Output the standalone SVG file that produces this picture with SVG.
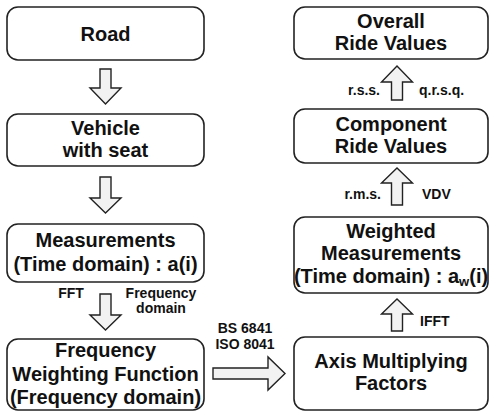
<svg xmlns="http://www.w3.org/2000/svg" width="490" height="411" viewBox="0 0 490 411">
<style>
.box{fill:#fff;stroke:#222;stroke-width:1.6}
.arr{fill:#f2f2f2;stroke:#222;stroke-width:1.4;stroke-linejoin:miter}
.t{font-family:"Liberation Sans",Arial,sans-serif;font-weight:bold;font-size:20px;fill:#111;text-anchor:middle}
.s{font-family:"Liberation Sans",Arial,sans-serif;font-weight:bold;font-size:14px;fill:#111}
</style>
<rect width="490" height="411" fill="#fff"/>
<g id="road"><rect class="box" x="7" y="7" width="197" height="53" rx="11"/><text class="t" x="105.5" y="40.5">Road</text></g>
<g id="vehicle"><rect class="box" x="7" y="114" width="197" height="52" rx="11"/><text class="t" x="105.5" y="135">Vehicle</text><text class="t" x="105.5" y="157">with seat</text></g>
<g id="measurements"><rect class="box" x="7" y="224" width="197" height="58" rx="11"/><text class="t" x="105.5" y="247">Measurements</text><text class="t" x="105.5" y="271">(Time domain) : a(i)</text></g>
<g id="fwf"><rect class="box" x="7" y="339" width="197" height="71" rx="11"/><text class="t" x="105.5" y="357">Frequency</text><text class="t" x="105.5" y="381">Weighting Function</text><text class="t" x="105.5" y="404">(Frequency domain)</text></g>
<g id="overall"><rect class="box" x="294" y="7" width="194" height="52" rx="11"/><text class="t" x="391" y="28">Overall</text><text class="t" x="391" y="50">Ride Values</text></g>
<g id="component"><rect class="box" x="294" y="109" width="194" height="54" rx="11"/><text class="t" x="391" y="131">Component</text><text class="t" x="391" y="153">Ride Values</text></g>
<g id="weighted"><rect class="box" x="294" y="217" width="194" height="76" rx="11"/><text class="t" x="391" y="238">Weighted</text><text class="t" x="391" y="260">Measurements</text><text class="t" x="391" y="283">(Time domain) : a<tspan font-size="13" dy="3">w</tspan><tspan dy="-3">(i)</tspan></text></g>
<g id="axis"><rect class="box" x="294" y="337" width="194" height="73" rx="11"/><text class="t" x="391" y="368">Axis Multiplying</text><text class="t" x="391" y="390">Factors</text></g>
<g id="connectors">
<path class="arr" d="M100,69 H111 V88 H121 L105.5,104 L90,88 H100 Z"/>
<path class="arr" d="M100,177 H111 V198 H121 L105.5,213 L90,198 H100 Z"/>
<path class="arr" d="M100,294 H111 V315 H121 L105.5,330 L90,315 H100 Z"/>
<path class="arr" d="M213,368 H268 V357 L285,373.5 L268,390 V379 H213 Z"/>
<path class="arr" d="M391.5,100 H402.5 V82 H412.5 L397,66 L381.5,82 H391.5 Z"/>
<path class="arr" d="M391.5,205 H402.5 V183 H412.5 L397,168 L381.5,183 H391.5 Z"/>
<path class="arr" d="M391.5,331 H402.5 V314 H412.5 L397,299 L381.5,314 H391.5 Z"/>
<text class="s" x="71" y="298" text-anchor="middle">FFT</text>
<text class="s" x="161" y="298" text-anchor="middle">Frequency</text>
<text class="s" x="161" y="313" text-anchor="middle">domain</text>
<text class="s" x="245" y="333" text-anchor="middle">BS 6841</text>
<text class="s" x="245" y="349" text-anchor="middle">ISO 8041</text>
<text class="s" x="380" y="95" text-anchor="end">r.s.s.</text>
<text class="s" x="419" y="95">q.r.s.q.</text>
<text class="s" x="381" y="199" text-anchor="end">r.m.s.</text>
<text class="s" x="422" y="199">VDV</text>
<text class="s" x="420" y="326">IFFT</text>
</g>
</svg>
